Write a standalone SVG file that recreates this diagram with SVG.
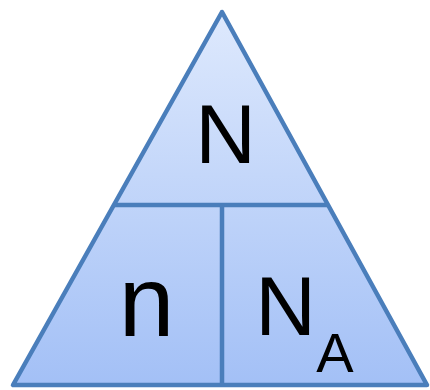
<svg xmlns="http://www.w3.org/2000/svg" width="430" height="390" viewBox="0 0 430 390">
<defs>
<linearGradient id="g" x1="0" y1="0" x2="0" y2="1">
<stop offset="0" stop-color="#dee9fd"/>
<stop offset="1" stop-color="#a3c0f6"/>
</linearGradient>
<style>
.s{stroke:#4a7ebb;stroke-width:4.5;fill:none;stroke-linejoin:round}
.t{font-family:"Liberation Sans",Arial,sans-serif;fill:#000;text-anchor:middle}
</style>
</defs>
<g id="triangle">
<polygon points="222,12 13,385 427,385" fill="url(#g)" class="s" style="fill:url(#g)"/>
</g>
<g id="connectors">
<line x1="115" y1="205" x2="327" y2="205" class="s"/>
<line x1="222" y1="205" x2="222" y2="385" class="s"/>
</g>
<g id="node-N"><text class="t" x="225.5" y="163" font-size="84">N</text></g>
<g id="node-n"><text class="t" x="146.5" y="336" font-size="100">n</text></g>
<g id="node-NA"><text class="t" x="285.5" y="335" font-size="84">N</text><text class="t" x="335" y="372" font-size="56">A</text></g>
</svg>
